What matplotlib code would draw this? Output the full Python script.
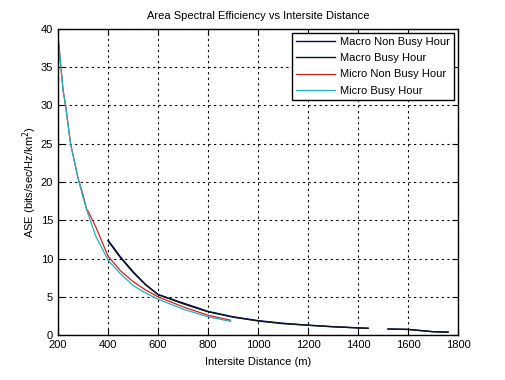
import numpy as np
import matplotlib.pyplot as plt

# === Data ===
micro_x = [200, 210, 220, 230, 250, 280, 300, 315, 320, 350, 400, 450, 500, 550, 600, 700, 800, 890]
micro_busy = [39, 35.5, 32, 30, 25, 20.5, 18, 16.4, 15.8, 13, 9.8, 8.0, 6.5, 5.5, 4.7, 3.4, 2.4, 1.8]
micro_non_busy = [39, 35.5, 32, 30, 25, 20.5, 18.3, 16.3, 16.2, 14.2, 10.3, 8.4, 7.0, 5.9, 5.0, 3.7, 2.6, 1.95]

macro_x = [400, 450, 500, 550, 600, 700, 800, 900, 1000, 1100, 1200, 1300, 1400, 1440, np.nan, 1520, 1600, 1650, 1700, 1760]
macro_non_busy = [12.4, 10.2, 8.3, 6.6, 5.3, 4.2, 3.1, 2.4, 1.9, 1.55, 1.3, 1.1, 0.95, 0.9, np.nan, 0.8, 0.75, 0.6, 0.45, 0.4]
macro_busy = [12.3, 10.1, 8.2, 6.6, 5.3, 4.1, 3.05, 2.35, 1.85, 1.5, 1.3, 1.1, 0.95, 0.9, np.nan, 0.8, 0.75, 0.6, 0.45, 0.4]

x_ticks = [200, 400, 600, 800, 1000, 1200, 1400, 1600, 1800]
y_ticks = [0, 5, 10, 15, 20, 25, 30, 35, 40]

plt.rcParams['font.family'] = ['Liberation Sans', 'DejaVu Sans']

fig = plt.figure(figsize=(5.05, 3.8), dpi=100)
ax = fig.add_axes([0.115, 0.118, 0.792, 0.806])

ax.plot(macro_x, macro_non_busy, color='#000080', lw=1, label='Macro Non Busy Hour')
ax.plot(macro_x, macro_busy, color='#0a1a10', lw=1, label='Macro Busy Hour')
ax.plot(micro_x, micro_non_busy, color='#d02020', lw=0.9, label='Micro Non Busy Hour')
ax.plot(micro_x, micro_busy, color='#20b0c0', lw=0.9, label='Micro Busy Hour')

ax.set_xlim(200, 1800)
ax.set_ylim(0, 40)
ax.set_xticks(x_ticks)
ax.set_yticks(y_ticks)
ax.tick_params(direction='in', labelsize=8, length=4, top=True, right=True)
ax.grid(True, color='black', linestyle=(0, (2, 3)), linewidth=0.8)
for s in ax.spines.values():
    s.set_linewidth(1)

ax.set_title('Area Spectral Efficiency vs Intersite Distance', fontsize=8, pad=7)
ax.set_xlabel('Intersite Distance (m)', fontsize=8, labelpad=5)
ax.set_ylabel('ASE (bits/sec/Hz/km$^2$)', fontsize=8, labelpad=1)

leg = ax.legend(loc='upper right', fontsize=8, frameon=True, fancybox=False,
                borderaxespad=0.35, handlelength=3.5, labelspacing=0.55,
                borderpad=0.4, handletextpad=0.4)
leg.get_frame().set_edgecolor('black')
leg.get_frame().set_linewidth(1)
leg.get_frame().set_alpha(1)

fig.savefig('out.png', dpi=100)
